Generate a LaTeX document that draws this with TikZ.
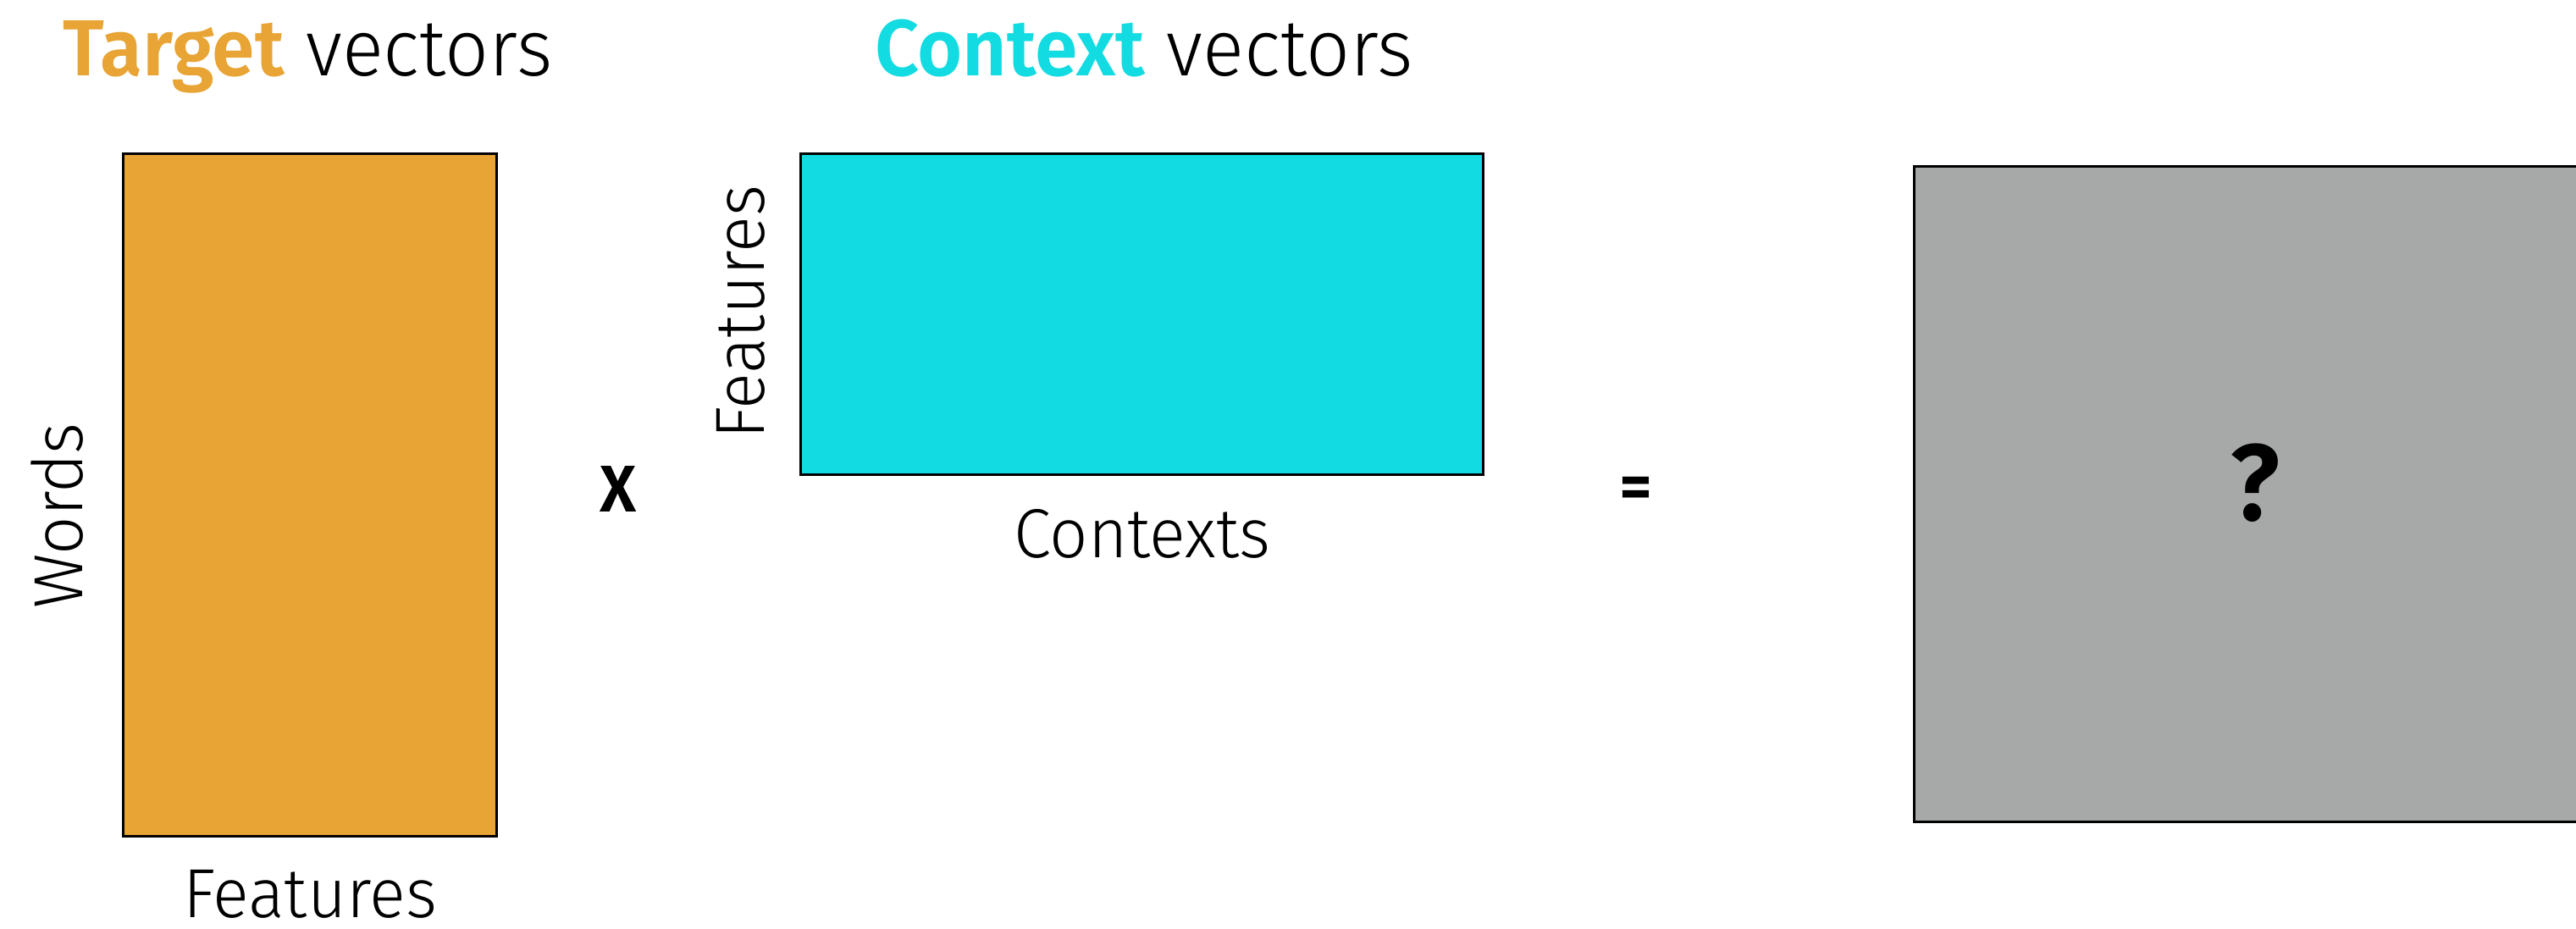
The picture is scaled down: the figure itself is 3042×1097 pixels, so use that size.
\documentclass[tikz,border=0pt]{standalone}
\usepackage{fontspec}
\setmainfont{Fira Sans}[UprightFont={* Light},BoldFont={* SemiBold},FakeStretch=0.97]
\definecolor{targetc}{RGB}{232,164,53}
\definecolor{contextc}{RGB}{18,219,226}
\definecolor{resultc}{RGB}{166,169,168}
\begin{document}
\begin{tikzpicture}[x=1pt,y=-1pt,
  matrixbox/.style={draw=black,line width=3pt},
  title/.style={inner sep=0pt,anchor=base west,font=\fontsize{94}{110}\selectfont},
  axislabel/.style={inner sep=0pt,anchor=base,font=\fontsize{82}{96}\selectfont},
  opsign/.style={inner sep=0pt,anchor=base,font=\fontsize{78}{90}\selectfont\bfseries}]
\useasboundingbox (0,0) rectangle (3042,1097);
\clip (0,0) rectangle (3042,1097);

% matrices
\draw[matrixbox,fill=targetc] (145,181) rectangle (586,987);
\node[inner sep=0pt,minimum width=441pt,minimum height=806pt] (target) at (365.5,584) {};
\draw[matrixbox,fill=contextc] (945,181) rectangle (1751,560);
\node[inner sep=0pt,minimum width=806pt,minimum height=379pt] (context) at (1348,370.5) {};
\draw[matrixbox,fill=resultc] (2260,196) rectangle (3100,970);
\node[inner sep=0pt] (result) at (2651,583) {};

% headings
\node[title] (ttitle) at (74,90) {\textbf{\color{targetc}Target} vectors};
\node[title] (ctitle) at (1033,90) {\textbf{\color{contextc}Context} vectors};

% axis labels
\node[axislabel,rotate=90] (words) at (97,609) {Words};
\node[axislabel] (tfeat) at (366,1083) {Features};
\node[axislabel,rotate=90] (cfeat) at (902,369) {Features};
\node[axislabel] (ctx) at (1349,658) {Contexts};

% operators
\node[opsign] (times) at (730,604) {X};
\node[opsign,anchor=center] (equals) at (1932,582) {=};
\node[inner sep=0pt,anchor=base,font=\fontsize{128}{140}\selectfont\bfseries] (qmark) at (2663,614) {?};
\end{tikzpicture}
\end{document}
